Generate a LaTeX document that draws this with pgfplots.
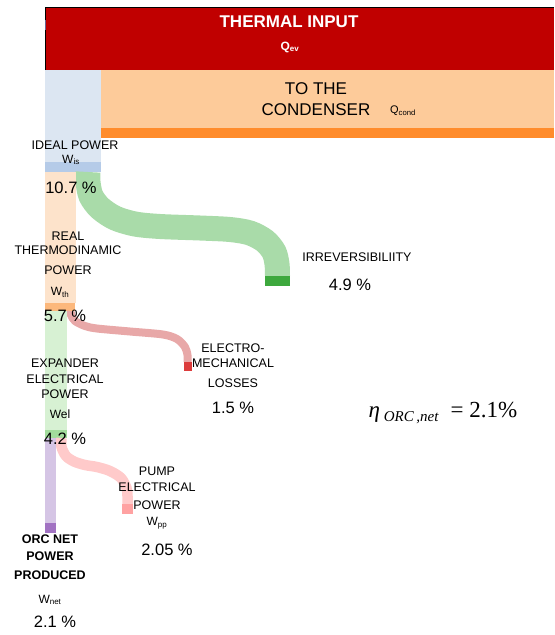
\documentclass[border=0pt]{standalone}
\usepackage{fontspec}
\setmainfont{Liberation Sans}
\newfontfamily\timesf{Liberation Serif}
\usepackage{pgfplots}
\pgfplotsset{compat=1.18}

\definecolor{thermal}{HTML}{C00000}
\definecolor{condlight}{HTML}{FDCB9A}
\definecolor{condstrip}{HTML}{FF8C2C}
\definecolor{islight}{HTML}{DCE6F2}
\definecolor{isstrip}{HTML}{B5CBE8}
\definecolor{thlight}{HTML}{FDE3CB}
\definecolor{thstrip}{HTML}{FCB87C}
\definecolor{irrrib}{HTML}{A9DBA9}
\definecolor{irrstrip}{HTML}{3DA83D}
\definecolor{ellight}{HTML}{D7F1D3}
\definecolor{elstrip}{HTML}{A2DC9C}
\definecolor{emrib}{HTML}{E8A8A8}
\definecolor{emstrip}{HTML}{DC3C3C}
\definecolor{pprib}{HTML}{FFCACA}
\definecolor{ppstrip}{HTML}{FFA2A2}
\definecolor{netlight}{HTML}{D5C5E5}
\definecolor{netstrip}{HTML}{A172C2}

\newcommand{\fs}[1]{\fontsize{#1}{#1}\selectfont}

\begin{document}
\begin{tikzpicture}
\begin{axis}[
    width=554pt, height=635pt, scale only axis,
    xmin=0, xmax=554, ymin=0, ymax=635,
    y dir=reverse,
    hide axis, clip=false
]
\addplot[draw=none] coordinates {(0,0) (554,635)};

% thermal input and condenser
\addplot[fill=thermal, draw=none] coordinates {(45.7,7) (554,7) (554,70) (45.7,70)} -- cycle;
\addplot[draw=black, line width=0.8pt] coordinates {(554,7) (45.7,7) (45.7,70) (554,70)};
\addplot[draw=black!70!blue!60, line width=1pt] coordinates {(45.2,20) (45.2,30)};
\addplot[fill=condlight, draw=none] coordinates {(100.5,70) (554,70) (554,128) (100.5,128)} -- cycle;
\addplot[fill=condstrip, draw=none] coordinates {(100.5,128) (554,128) (554,138) (100.5,138)} -- cycle;

% ideal power
\addplot[fill=islight, draw=none] coordinates {(45,70) (100.5,70) (100.5,162) (45,162)} -- cycle;
\addplot[fill=isstrip, draw=none] coordinates {(45,162) (100.5,162) (100.5,172) (45,172)} -- cycle;

% irreversibility ribbon
\addplot[smooth, draw=irrrib, line width=25pt] coordinates {
    (88,172) (88,182) (91,196) (100,208) (115,218) (135,224) (160,226.5)
    (200,228) (230,229.5) (250,233) (265,241) (274,252) (277,264) (277.5,276)};
\addplot[fill=irrstrip, draw=none] coordinates {(265,276) (290,276) (290,286) (265,286)} -- cycle;

% real thermodynamic power
\addplot[fill=thlight, draw=none] coordinates {(45,172) (75.5,172) (75.5,303) (45,303)} -- cycle;
\addplot[fill=thstrip, draw=none] coordinates {(45,303) (75,303) (75,311) (45,311)} -- cycle;

% electro-mechanical losses ribbon
\addplot[smooth, draw=emrib, line width=8pt] coordinates {
    (71,311) (71,315) (75,321) (85,326) (97,328.5) (130,331.5) (163,334.5)
    (177,339) (185,347) (187.5,355) (187.5,362)};
\addplot[fill=emstrip, draw=none] coordinates {(183.5,362) (191.5,362) (191.5,371) (183.5,371)} -- cycle;

% expander electrical power
\addplot[fill=ellight, draw=none] coordinates {(45,311) (67,311) (67,430) (45,430)} -- cycle;
\addplot[fill=elstrip, draw=none] coordinates {(45,430) (67,430) (67,438) (45,438)} -- cycle;

% pump electrical power ribbon
\addplot[smooth, draw=pprib, line width=10.5pt] coordinates {
    (61.5,438) (61.5,447) (66,456) (74,461.5) (85,465) (97,467) (110,471)
    (121,478) (126.5,488) (127.5,496) (127.5,504)};
\addplot[fill=ppstrip, draw=none] coordinates {(122,504) (133,504) (133,514) (122,514)} -- cycle;

% ORC net power
\addplot[fill=netlight, draw=none] coordinates {(45,438) (56,438) (56,523) (45,523)} -- cycle;
\addplot[fill=netstrip, draw=none] coordinates {(45,523) (56,523) (56,533) (45,533)} -- cycle;

% labels
\node[text=white, font=\fs{17}\bfseries] at (289,22) {THERMAL INPUT};
\node[text=white, font=\fs{12}\bfseries] at (290,47) {Q\textsubscript{ev}};
\node[font=\fs{17}] at (316,89) {TO THE};
\node[font=\fs{17}] at (316,110) {CONDENSER};
\node[font=\fs{11}] at (403,111) {Q\textsubscript{cond}};

\node[font=\fs{12.5}] at (75,145) {IDEAL POWER};
\node[font=\fs{12}] at (71,160) {W\textsubscript{is}};
\node[font=\fs{16.5}] at (71,188) {10.7 \%};

\node[font=\fs{12.5}] at (68,236) {REAL};
\node[font=\fs{12.5}] at (68,250) {THERMODINAMIC};
\node[font=\fs{12.5}] at (68,270) {POWER};
\node[font=\fs{12}] at (60,292) {W\textsubscript{th}};
\node[font=\fs{16.5}] at (65,316) {5.7 \%};

\node[font=\fs{12.5}] at (65,363) {EXPANDER};
\node[font=\fs{12.5}] at (65,379) {ELECTRICAL};
\node[font=\fs{12.5}] at (65,394) {POWER};
\node[font=\fs{12}] at (60,414) {Wel};
\node[font=\fs{16.5}] at (65,439) {4.2 \%};

\node[font=\fs{12.5}] at (233,348) {ELECTRO-};
\node[font=\fs{12.5}] at (233,363) {MECHANICAL};
\node[font=\fs{12.5}] at (233,383) {LOSSES};
\node[font=\fs{16.5}] at (233,408) {1.5 \%};

\node[font=\fs{12.5}] at (357,257) {IRREVERSIBILIITY};
\node[font=\fs{16.5}] at (350,285) {4.9 \%};

\node[font=\fs{12.5}] at (157,471) {PUMP};
\node[font=\fs{12.5}] at (157,487) {ELECTRICAL};
\node[font=\fs{12.5}] at (157,505) {POWER};
\node[font=\fs{12}] at (157,523) {W\textsubscript{pp}};
\node[font=\fs{16.5}] at (167,550) {2.05 \%};

\node[font=\fs{12.5}\bfseries] at (50,539) {ORC NET};
\node[font=\fs{12.5}\bfseries] at (50,556) {POWER};
\node[font=\fs{12.5}\bfseries] at (50,575) {PRODUCED};
\node[font=\fs{12}] at (50,600) {W\textsubscript{net}};
\node[font=\fs{16.5}] at (55,622) {2.1 \%};

\node[font=\timesf\fs{23}] at (443,413) {\textit{η}\,\textsubscript{\fs{15}\textit{ORC\,,net}}\enspace= 2.1\%};
\end{axis}
\end{tikzpicture}
\end{document}
